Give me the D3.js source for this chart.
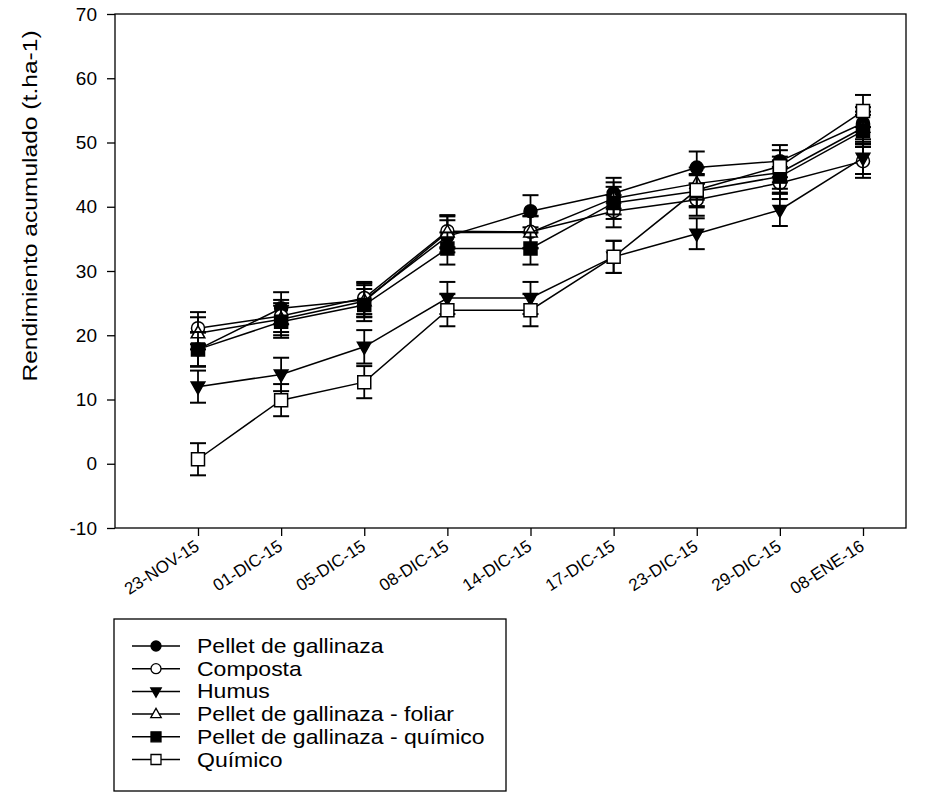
<!DOCTYPE html>
<html>
<head>
<meta charset="utf-8">
<script src="https://cdn.jsdelivr.net/npm/d3@7"></script>
<style>
  body { margin: 0; background: #fff; }
  svg { display: block; font-family: Arial, "Liberation Sans", sans-serif; }
</style>
</head>
<body>
<svg id="chart"></svg>
<script>
// dates of harvest
const fechas = ['23-NOV-15', '01-DIC-15', '05-DIC-15', '08-DIC-15', '14-DIC-15', '17-DIC-15', '23-DIC-15', '29-DIC-15', '08-ENE-16'];
const yTicks = [-10, 0, 10, 20, 30, 40, 50, 60, 70];

// treatment means (t.ha-1)
const pelletGallinaza = [17.8, 24.2, 25.5, 35.4, 39.3, 42.1, 46.1, 47.1, 53.0];
const composta        = [21.1, 23.0, 25.8, 36.2, 36.1, 39.3, 41.1, 43.7, 47.1];
const humus           = [12.0, 13.9, 18.2, 25.8, 25.8, 32.2, 35.8, 39.5, 47.6];
const pelletFoliar    = [20.3, 22.5, 25.3, 36.0, 36.0, 41.3, 43.6, 45.3, 52.3];
const pelletQuimico   = [17.8, 22.1, 24.7, 33.5, 33.5, 40.6, 42.4, 44.7, 51.8];
const quimico         = [0.7, 9.9, 12.7, 23.9, 23.9, 32.2, 42.6, 46.3, 54.9];

// error bars (+/-)
const errPellet        = [2.6, 2.5, 2.6, 2.5, 2.5, 2.4, 2.5, 2.5, 2.5];
const errComposta      = [2.5, 2.5, 2.5, 2.5, 2.5, 2.5, 2.5, 2.5, 2.6];
const errHumus         = [2.5, 2.6, 2.6, 2.5, 2.5, 2.5, 2.4, 2.5, 2.5];
const errFoliar        = [2.5, 2.5, 2.5, 2.5, 2.5, 2.5, 2.5, 2.5, 2.5];
const errPelletQuimico = [2.7, 2.5, 2.5, 2.5, 2.5, 2.5, 2.5, 2.5, 2.5];
const errQuimico       = [2.5, 2.5, 2.5, 2.5, 2.5, 2.5, 2.5, 2.5, 2.5];

const series = [
  {name: 'Pellet de gallinaza', values: pelletGallinaza, err: errPellet, symbol: 'circle', fill: '#000'},
  {name: 'Composta', values: composta, err: errComposta, symbol: 'circle', fill: '#fff'},
  {name: 'Humus', values: humus, err: errHumus, symbol: 'triDown', fill: '#000'},
  {name: 'Pellet de gallinaza - foliar', values: pelletFoliar, err: errFoliar, symbol: 'triUp', fill: '#fff'},
  {name: 'Pellet de gallinaza - químico', values: pelletQuimico, err: errPelletQuimico, symbol: 'square', fill: '#000'},
  {name: 'Químico', values: quimico, err: errQuimico, symbol: 'square', fill: '#fff'}
];

class RendimientoChart {
  constructor(_config, _series) {
    this.config = {
      parentElement: _config.parentElement,
      containerWidth: _config.containerWidth || 934,
      containerHeight: _config.containerHeight || 794,
      margin: _config.margin || {top: 14, right: 28, bottom: 266, left: 115}
    };
    this.series = _series;
    this.initVis();
  }

  symbolPath(type, s) {
    // s = half size
    if (type === 'circle') return d3.symbol(d3.symbolCircle, Math.PI * s * s)();
    if (type === 'square') return `M${-s},${-s}H${s}V${s}H${-s}Z`;
    if (type === 'triUp') return `M0,${-s * 1.15}L${s * 1.05},${s * 0.7}L${-s * 1.05},${s * 0.7}Z`;
    return `M0,${s * 1.15}L${s * 1.05},${-s * 0.7}L${-s * 1.05},${-s * 0.7}Z`;
  }

  initVis() {
    let vis = this;
    vis.width = vis.config.containerWidth - vis.config.margin.left - vis.config.margin.right;
    vis.height = vis.config.containerHeight - vis.config.margin.top - vis.config.margin.bottom;

    vis.svg = d3.select(vis.config.parentElement)
      .attr('width', vis.config.containerWidth)
      .attr('height', vis.config.containerHeight);

    vis.chart = vis.svg.append('g')
      .attr('transform', `translate(${vis.config.margin.left},${vis.config.margin.top})`);

    vis.xScale = d3.scalePoint()
      .domain(fechas)
      .range([83, 748]);

    vis.yScale = d3.scaleLinear()
      .domain([-10, 70])
      .range([vis.height, 0]);

    vis.xAxis = d3.axisBottom(vis.xScale).tickSize(8).tickSizeOuter(0);
    vis.yAxis = d3.axisLeft(vis.yScale)
      .tickValues(yTicks)
      .tickFormat(d => String(d))
      .tickSize(8)
      .tickSizeOuter(0);

    vis.renderVis();
  }

  renderVis() {
    let vis = this;

    // frame
    vis.chart.append('rect')
      .attr('width', vis.width)
      .attr('height', vis.height)
      .attr('fill', 'none')
      .attr('stroke', '#000')
      .attr('stroke-width', 1.3);

    const xAxisG = vis.chart.append('g')
      .attr('transform', `translate(0,${vis.height})`)
      .call(vis.xAxis);
    xAxisG.select('.domain').remove();
    xAxisG.selectAll('line').attr('stroke-width', 1.3);
    xAxisG.selectAll('text')
      .attr('x', 0).attr('y', 0).attr('dy', 0)
      .attr('font-size', '17px')
      .attr('font-family', 'Arial, "Liberation Sans", sans-serif')
      .attr('fill', '#000')
      .style('text-anchor', 'end')
      .attr('transform', 'translate(2,21) rotate(-33)');

    const yAxisG = vis.chart.append('g').call(vis.yAxis);
    yAxisG.select('.domain').remove();
    yAxisG.selectAll('line').attr('stroke-width', 1.3);
    yAxisG.selectAll('text')
      .attr('x', -18)
      .attr('font-size', '19px')
      .attr('font-family', 'Arial, "Liberation Sans", sans-serif')
      .attr('fill', '#000');

    vis.svg.append('text')
      .attr('transform', 'translate(37,206) rotate(-90) scale(1.23,1)')
      .attr('text-anchor', 'middle')
      .attr('font-size', '20px')
      .text('Rendimiento acumulado (t.ha-1)');

    const line = d3.line()
      .x((d, i) => vis.xScale(fechas[i]))
      .y(d => vis.yScale(d));

    vis.series.forEach(s => {
      const g = vis.chart.append('g');
      g.append('path')
        .attr('d', line(s.values))
        .attr('fill', 'none')
        .attr('stroke', '#000')
        .attr('stroke-width', 1.5);

      const pts = s.values.map((v, i) => ({x: vis.xScale(fechas[i]), v: v, e: s.err[i]}));
      const eb = g.selectAll('.eb').data(pts).join('g');
      eb.append('line')
        .attr('x1', d => d.x).attr('x2', d => d.x)
        .attr('y1', d => vis.yScale(d.v - d.e)).attr('y2', d => vis.yScale(d.v + d.e))
        .attr('stroke', '#000').attr('stroke-width', 1.8);
      [1, -1].forEach(sign => {
        eb.append('line')
          .attr('x1', d => d.x - 8).attr('x2', d => d.x + 8)
          .attr('y1', d => vis.yScale(d.v + sign * d.e)).attr('y2', d => vis.yScale(d.v + sign * d.e))
          .attr('stroke', '#000').attr('stroke-width', 2);
      });

      g.selectAll('.mk').data(pts).join('path')
        .attr('d', vis.symbolPath(s.symbol, 6.5))
        .attr('transform', d => `translate(${d.x},${vis.yScale(d.v)})`)
        .attr('fill', s.fill)
        .attr('stroke', '#000')
        .attr('stroke-width', 1.5);
    });

    // legend
    const legend = vis.svg.append('g').attr('transform', 'translate(114,619)');
    legend.append('rect')
      .attr('width', 392).attr('height', 172)
      .attr('fill', 'none').attr('stroke', '#000').attr('stroke-width', 1.3);
    const items = legend.selectAll('.item').data(vis.series).join('g')
      .attr('transform', (d, i) => `translate(0,${27 + i * 22.7})`);
    items.append('line')
      .attr('x1', 18).attr('x2', 66)
      .attr('stroke', '#000').attr('stroke-width', 1.5);
    items.append('path')
      .attr('d', d => vis.symbolPath(d.symbol, 5))
      .attr('transform', 'translate(42,0)')
      .attr('fill', d => d.fill)
      .attr('stroke', '#000')
      .attr('stroke-width', 1.3);
    items.append('text')
      .attr('transform', 'translate(83,0) scale(1.15,1)')
      .attr('dy', '0.35em')
      .attr('font-size', '20px')
      .text(d => d.name);
  }
}

new RendimientoChart({parentElement: '#chart'}, series);
</script>
</body>
</html>
